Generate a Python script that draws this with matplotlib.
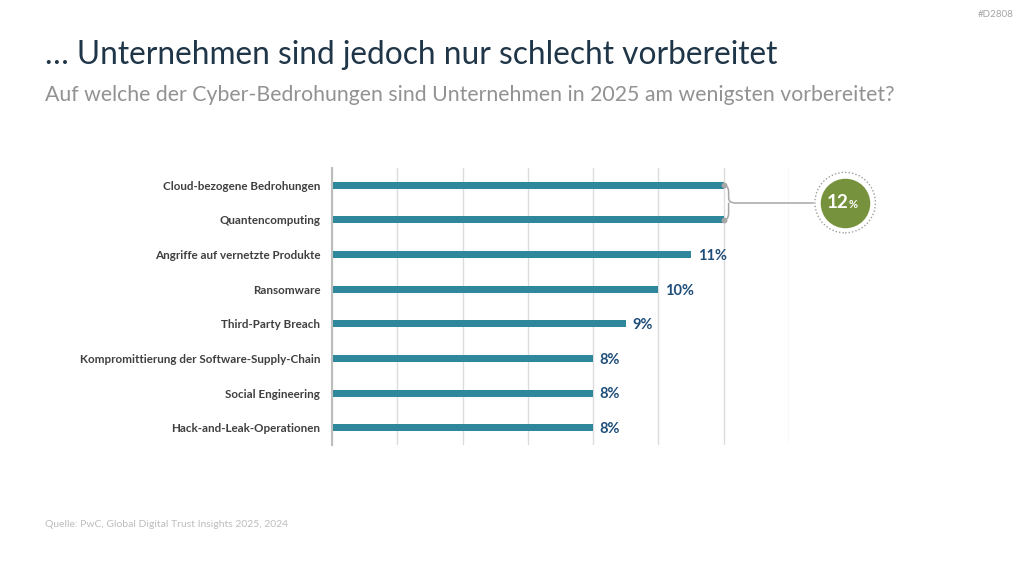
import matplotlib.pyplot as plt
from matplotlib.path import Path
from matplotlib.patches import PathPatch

plt.rcParams['font.family'] = ['Lato', 'DejaVu Sans']

# Daten
kategorien = ["Cloud-bezogene Bedrohungen", "Quantencomputing",
              "Angriffe auf vernetzte Produkte", "Ransomware",
              "Third-Party Breach",
              "Kompromittierung der Software-Supply-Chain",
              "Social Engineering", "Hack-and-Leak-Operationen"]
werte = [12, 12, 11, 10, 9, 8, 8, 8]
gruppe_wert = 12  # gemeinsamer Wert der beiden oberen Balken

farbe_balken = "#2E879B"
farbe_zahl = "#1F4E79"

fig = plt.figure(figsize=(10.24, 5.76), dpi=100)
ax = fig.add_axes([332 / 1024, 1 - 445 / 576, 457 / 1024, 277 / 576])

y = list(range(len(kategorien)))
ax.barh(y, werte, height=0.2, color=farbe_balken, zorder=3)
ax.set_xlim(0, 14)
ax.set_ylim(len(kategorien) - 0.5, -0.5)

# Gitter
ax.set_xticks(range(0, 15, 2))
ax.xaxis.grid(True, color="#DCDCDC", linewidth=1, zorder=0)
ax.tick_params(axis="x", length=0, labelbottom=False)
ax.tick_params(axis="y", length=0, pad=8.5)
ax.set_yticks(y)
ax.set_yticklabels(kategorien, fontsize=8.4, fontweight="bold", color="#404040")
for s in ["top", "right", "bottom"]:
    ax.spines[s].set_visible(False)
ax.spines["left"].set_color("#BDBDBD")
ax.spines["left"].set_linewidth(1.5)
ax.spines["left"].set_zorder(4)

# Wertebeschriftungen (ohne die gruppierten oberen Balken)
for i, v in enumerate(werte):
    if i < 2:
        continue
    ax.text(v + 0.2, i + 0.04, f"{v}%", va="center", ha="left", fontsize=10.5,
            fontweight="bold", color=farbe_zahl)

# geschweifte Klammer an den beiden oberen Balken
x0 = werte[0]
w = 0.3
verts = [(x0, 0), (x0 + w / 2, 0), (x0 + w / 2, 0.2),
         (x0 + w / 2, 0.35),
         (x0 + w / 2, 0.5), (x0 + w, 0.5),
         (x0 + w / 2, 0.5), (x0 + w / 2, 0.65),
         (x0 + w / 2, 0.8),
         (x0 + w / 2, 1), (x0, 1)]
codes = [Path.MOVETO, Path.CURVE3, Path.CURVE3, Path.LINETO,
         Path.CURVE3, Path.CURVE3, Path.MOVETO, Path.CURVE3,
         Path.LINETO, Path.CURVE3, Path.CURVE3]
ax.add_patch(PathPatch(Path(verts, codes), fill=False, edgecolor="#A6A6A6",
                       linewidth=1.1, clip_on=False, zorder=5))
ax.scatter([x0, x0], [0, 1], s=10, color="#A6A6A6", zorder=6, clip_on=False)
cx = 15.72
ax.plot([x0 + w, cx - 1.0], [0.5, 0.5], color="#A6A6A6", linewidth=1.1,
        clip_on=False, zorder=5)

# Kreis mit Wert
ax.scatter([cx], [0.5], s=1900, facecolor="none", edgecolor="#9E9E9E",
           linestyle=(0, (1, 1.5)), linewidth=1.0, clip_on=False, zorder=6)
ax.scatter([cx], [0.5], s=1200, color="#77923C", clip_on=False, zorder=7)
ax.text(cx + 0.1, 0.5, f"{gruppe_wert}", ha="right", va="center",
        fontsize=13.5, fontweight="bold", color="white", zorder=8, clip_on=False)
ax.text(cx + 0.12, 0.56, "%", ha="left", va="center", fontsize=8,
        fontweight="bold", color="white", zorder=8, clip_on=False)

# Texte
fig.text(45 / 1024, 1 - 64 / 576, "… Unternehmen sind jedoch nur schlecht vorbereitet",
         fontsize=22.8, color="#1F3548", ha="left", va="baseline")
fig.text(45 / 1024, 1 - 101 / 576,
         "Auf welche der Cyber-Bedrohungen sind Unternehmen in 2025 am wenigsten vorbereitet?",
         fontsize=15.3, color="#929292", ha="left", va="baseline")
fig.text(45 / 1024, 1 - 527 / 576, "Quelle: PwC, Global Digital Trust Insights 2025, 2024",
         fontsize=7.5, color="#BDBDBD", ha="left", va="baseline")
fig.text(1014 / 1024, 1 - 17 / 576, "#D2808", fontsize=7, color="#A6A6A6",
         ha="right", va="baseline")

fig.savefig("out.png", dpi=100, facecolor="white")
